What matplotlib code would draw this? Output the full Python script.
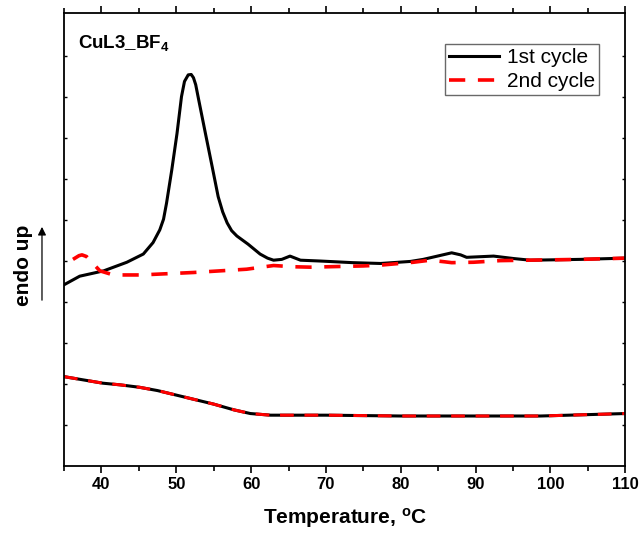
import matplotlib
matplotlib.use('Agg')
import matplotlib.pyplot as plt
from matplotlib.ticker import MultipleLocator

plt.rcParams['font.family'] = ['Liberation Sans', 'DejaVu Sans']
plt.rcParams['mathtext.default'] = 'regular'

# DSC traces (heat flow in arbitrary units, offset curves)
t_heat1 = [35.0, 37.1, 40.3, 43.4, 45.6, 46.9, 47.8, 48.3, 48.7, 49.4, 50.1, 50.7, 51.1,
           51.6, 52.0, 52.3, 52.6, 53.0, 53.9, 54.8, 55.6, 56.2, 56.8, 57.4, 58.1, 59.6,
           61.2, 62.2, 63.0, 64.1, 65.2, 66.6, 69.2, 73.6, 77.3, 81.3, 83.0, 86.8, 88.0,
           88.8, 92.4, 95.1, 97.3, 104.0, 110.0]
q_heat1 = [4.42, 4.63, 4.76, 4.97, 5.17, 5.45, 5.76, 6.02, 6.41, 7.22, 8.11, 9.01, 9.38,
           9.54, 9.55, 9.47, 9.30, 8.93, 8.11, 7.30, 6.57, 6.20, 5.93, 5.74, 5.61, 5.41,
           5.17, 5.07, 5.02, 5.04, 5.12, 5.02, 5.00, 4.96, 4.94, 4.99, 5.04, 5.20, 5.15,
           5.09, 5.12, 5.06, 5.02, 5.04, 5.07]

t_heat2 = [36.2, 37.0, 37.4, 38.0, 39.8, 41.6, 45.2, 52.3, 59.4, 63.0, 65.7, 67.9, 75.0,
           77.3, 81.7, 83.9, 85.9, 86.8, 89.7, 93.3, 96.9, 104.0, 110.0]
q_heat2 = [5.04, 5.13, 5.15, 5.11, 4.76, 4.66, 4.66, 4.72, 4.80, 4.89, 4.86, 4.85, 4.88,
           4.90, 4.97, 5.02, 4.98, 4.96, 4.97, 5.01, 5.02, 5.04, 5.07]

t_cool = [35.0, 40.2, 42.5, 45.1, 47.5, 50.0, 52.5, 55.0, 57.7, 59.9, 62.6, 70.0, 80.0,
          98.7, 110.0]
q_cool1 = [2.18, 2.02, 1.98, 1.92, 1.84, 1.73, 1.62, 1.51, 1.37, 1.28, 1.24, 1.24, 1.22,
           1.22, 1.28]
q_cool2 = [2.18, 2.02, 1.98, 1.92, 1.84, 1.73, 1.62, 1.51, 1.37, 1.28, 1.24, 1.24, 1.22,
           1.22, 1.28]

fig = plt.figure(figsize=(6.4, 5.4), dpi=100)
ax = fig.add_axes([0.1, 0.137, 0.877, 0.839])

dash = (0, (4.5, 3.5))
ax.plot(t_heat1, q_heat1, color='black', lw=2.2, label='1st cycle', solid_joinstyle='round')
ax.plot(t_heat2, q_heat2, color='red', lw=2.6, ls=dash, label='2nd cycle')
ax.plot(t_cool, q_cool1, color='black', lw=2.2, solid_joinstyle='round')
ax.plot(t_cool, q_cool2, color='red', lw=2.2, ls=dash)

ax.set_xlim(35, 110)
ax.set_ylim(0, 11.05)
ax.xaxis.set_major_locator(MultipleLocator(10))
ax.xaxis.set_minor_locator(MultipleLocator(5))
ax.set_yticks(range(1, 11))
ax.set_yticklabels([])

for sp in ax.spines.values():
    sp.set_linewidth(1.3)

ax.tick_params(axis='x', which='major', direction='out', length=5, width=1.2,
               labelsize=12, pad=3)
ax.tick_params(axis='x', which='minor', direction='out', length=3.5, width=1.2)
ax.tick_params(axis='y', direction='in', length=2.5, width=1.0)
ax.tick_params(top=True, right=True, which='both')
for lab in ax.get_xticklabels():
    lab.set_fontweight('bold')

ax.set_xlabel('Temperature, $^o$C', fontsize=15, fontweight='bold', labelpad=10)

ax.text(0.025, 0.923, 'CuL3_BF$_4$', transform=ax.transAxes, fontsize=13.5,
        fontweight='bold', va='baseline', ha='left')

leg = ax.legend(loc='upper right', bbox_to_anchor=(0.954, 0.932), borderaxespad=0,
                fontsize=15, frameon=True, fancybox=False, handlelength=2.4,
                handletextpad=0.4, labelspacing=0.25, borderpad=0.2)
leg.get_frame().set_edgecolor('#444444')
leg.get_frame().set_linewidth(1.0)

fig.text(0.036, 0.509, 'endo up', rotation=90, fontsize=15, fontweight='bold',
         ha='center', va='center')
fig.add_artist(plt.Annotation('', xy=(0.0656, 0.585), xytext=(0.0656, 0.439),
                              xycoords='figure fraction', textcoords='figure fraction',
                              arrowprops=dict(arrowstyle='-|>', color='black', lw=0.9,
                                              mutation_scale=12)))

fig.savefig('out.png', dpi=100)
